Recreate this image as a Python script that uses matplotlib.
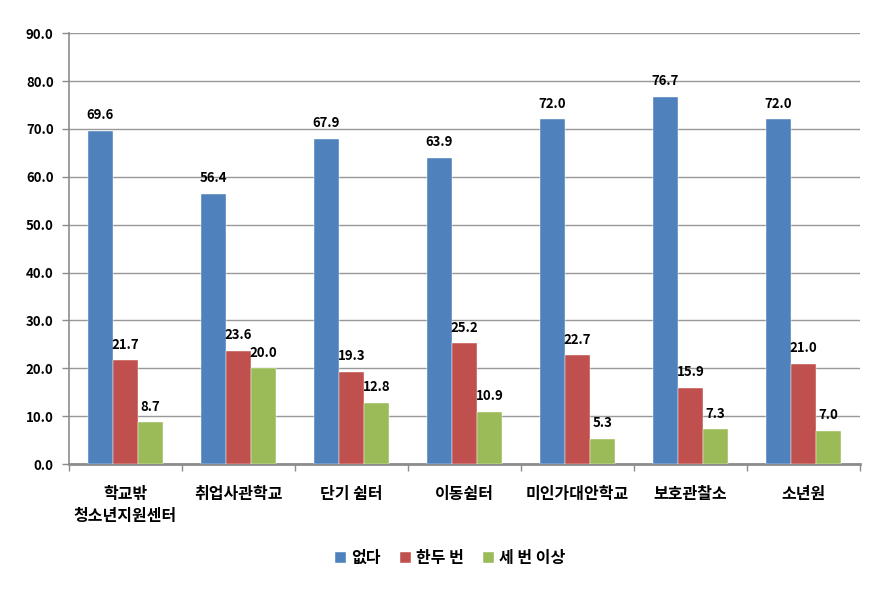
import matplotlib
matplotlib.use("Agg")
import matplotlib.pyplot as plt
import numpy as np

plt.rcParams['font.family'] = ['Noto Sans CJK KR', 'DejaVu Sans']

categories = ["학교밖\n청소년지원센터", "취업사관학교", "단기 쉼터", "이동쉼터", "미인가대안학교", "보호관찰소", "소년원"]
series_names = ["없다", "한두 번", "세 번 이상"]
none_vals = [69.6, 56.4, 67.9, 63.9, 72.0, 76.7, 72.0]
once_twice = [21.7, 23.6, 19.3, 25.2, 22.7, 15.9, 21.0]
three_plus = [8.7, 20.0, 12.8, 10.9, 5.3, 7.3, 7.0]
colors = ["#4F81BD", "#C0504D", "#9BBB59"]

fig = plt.figure(figsize=(8.91, 6.02), dpi=100)
ax = fig.add_axes([0.0774, 0.229, 0.8876, 0.716])

x = np.arange(len(categories))
w = 0.222
data = [none_vals, once_twice, three_plus]
for i, (vals, name, c) in enumerate(zip(data, series_names, colors)):
    pos = x + (i - 1) * w
    ax.bar(pos, vals, width=w, color=c, label=name, zorder=3, edgecolor='white', linewidth=0.3)
    for p, v in zip(pos, vals):
        ax.text(p, v + 1.8, f"{v:.1f}", ha='center', va='bottom', fontsize=9.5, fontweight='bold', zorder=4)

ax.set_xlim(-0.5, len(categories) - 0.5)
ax.set_ylim(0, 90)
ax.set_yticks(np.arange(0, 91, 10))
ax.set_yticklabels([f"{v:.1f}" for v in np.arange(0, 91, 10)], fontsize=9.5, fontweight='bold')
ax.yaxis.grid(True, color='#989898', linewidth=1.0, zorder=0)
ax.set_axisbelow(True)

ax.set_xticks(np.arange(-0.5, len(categories), 1))
ax.set_xticklabels([])
ax.tick_params(axis='x', direction='out', length=5, color='#8c8c8c', width=1)
ax.tick_params(axis='y', direction='out', length=5, color='#8c8c8c', width=1, pad=6)
for i, cat in enumerate(categories):
    ax.text(i, -4.5, cat, ha='center', va='top', fontsize=11.5, fontweight='bold', linespacing=1.5,
            transform=ax.transData)

for s in ['top', 'right']:
    ax.spines[s].set_visible(False)
ax.spines['left'].set_color('#8c8c8c')
ax.spines['left'].set_linewidth(1.2)
ax.spines['bottom'].set_color('#8c8c8c')
ax.spines['bottom'].set_linewidth(2)

fig.legend(loc='center', bbox_to_anchor=(0.505, 0.073), ncol=3, frameon=False,
           prop={'size': 11.5, 'weight': 'bold'}, handlelength=0.7, handleheight=0.7,
           handletextpad=0.3, columnspacing=1.2)

fig.savefig("out.png", dpi=100)
